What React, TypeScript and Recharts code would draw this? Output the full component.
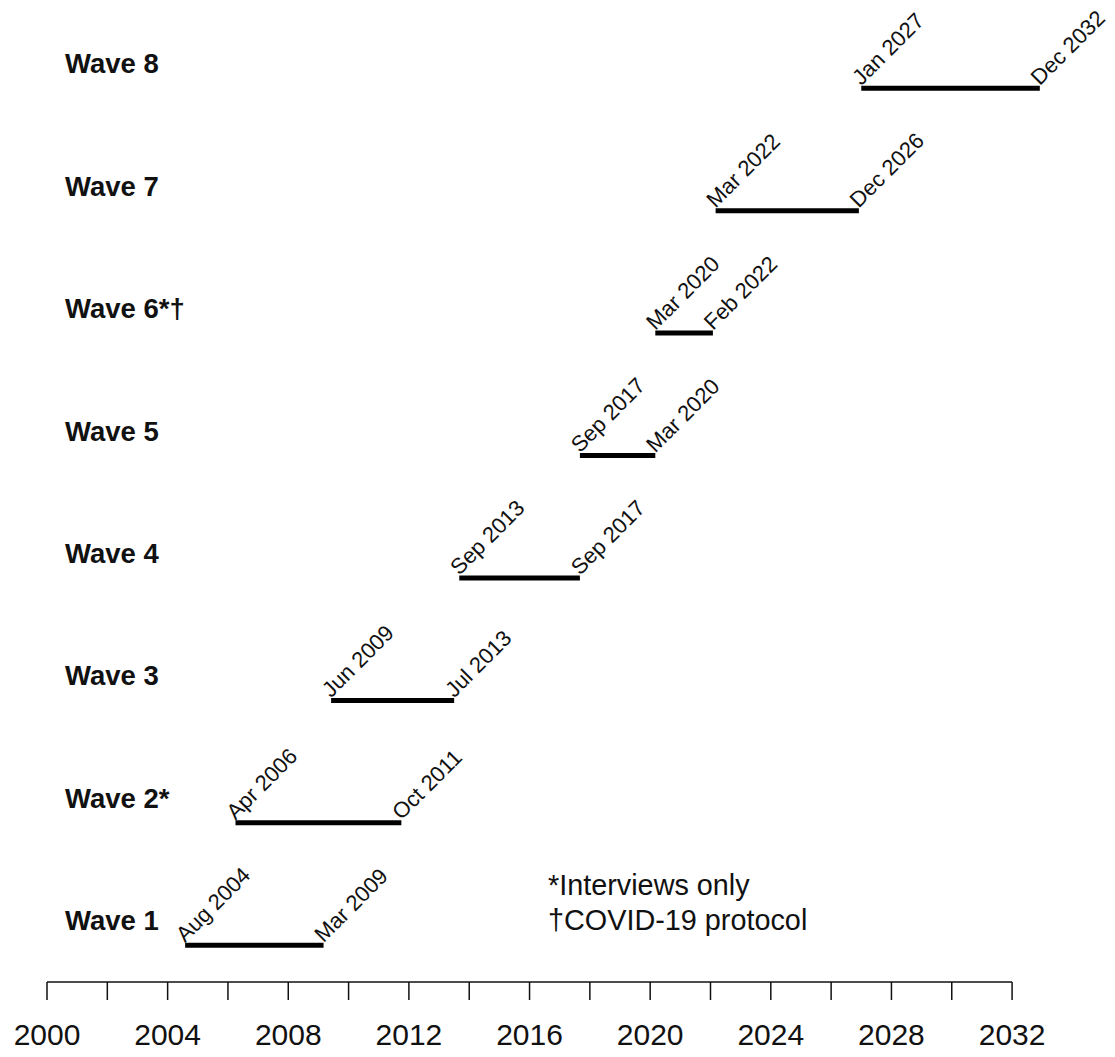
import React from 'react';
import { LineChart, Line, XAxis, YAxis, ReferenceLine, LabelList } from 'recharts';

const waveNames = ['Wave 1', 'Wave 2*', 'Wave 3', 'Wave 4', 'Wave 5', 'Wave 6*†', 'Wave 7', 'Wave 8'];
const waveRows = [1, 2, 3, 4, 5, 6, 7, 8];
const startLabels = ['Aug 2004', 'Apr 2006', 'Jun 2009', 'Sep 2013', 'Sep 2017', 'Mar 2020', 'Mar 2022', 'Jan 2027'];
const endLabels = ['Mar 2009', 'Oct 2011', 'Jul 2013', 'Sep 2017', 'Mar 2020', 'Feb 2022', 'Dec 2026', 'Dec 2032'];
const startYears = [2004.58, 2006.25, 2009.42, 2013.67, 2017.67, 2020.17, 2022.17, 2027.0];
const endYears = [2009.17, 2011.75, 2013.5, 2017.67, 2020.17, 2022.08, 2026.92, 2032.92];
const yearTicks = [2000, 2002, 2004, 2006, 2008, 2010, 2012, 2014, 2016, 2018, 2020, 2022, 2024, 2026, 2028, 2030, 2032];
const notes = ['*Interviews only', '†COVID-19 protocol'];

const FONT = '"Liberation Sans", Arial, Helvetica, sans-serif';

const waves = waveRows.map((row, i) => ({
  name: waveNames[i],
  data: [
    { x: startYears[i], y: row, label: startLabels[i] },
    { x: endYears[i], y: row, label: endLabels[i] },
  ],
}));

const DateLabel = (props: any) => {
  const { x, y, value } = props;
  return (
    <text
      x={x}
      y={y - 2}
      transform={`rotate(-45, ${x}, ${y - 2})`}
      fontSize={22}
      fontFamily={FONT}
      fill="#111"
      textAnchor="start"
    >
      {value}
    </text>
  );
};

const WaveTick = (props: any) => {
  const { y, payload } = props;
  return (
    <text x={57} y={y - 15} fontSize={27.5} fontWeight="bold" fontFamily={FONT} fill="#111" textAnchor="start">
      {waveNames[payload.value - 1]}
    </text>
  );
};

export default function App() {
  return (
    <div style={{ position: 'relative', width: 1107, height: 1041, overflow: 'visible' }}>
      <LineChart width={1107} height={1049} margin={{ top: 19, right: 42.6, left: 0, bottom: 0 }}>
        <XAxis
          type="number"
          dataKey="x"
          domain={[2000, 2034]}
          ticks={yearTicks}
          tickFormatter={(v: number) => (v % 4 === 0 ? String(v) : '')}
          axisLine={false}
          tickLine={{ stroke: '#111', strokeWidth: 1.5 }}
          tickSize={18}
          tickMargin={24}
          height={75}
          interval={0}
          tick={{ fontSize: 30, fill: '#111', fontFamily: FONT }}
        />
        <YAxis
          type="number"
          dataKey="y"
          domain={[0.7, 8.5]}
          ticks={waveRows}
          width={39}
          axisLine={false}
          tickLine={false}
          interval={0}
          tick={<WaveTick />}
        />
        <ReferenceLine
          segment={[{ x: 2000, y: 0.7 }, { x: 2032, y: 0.7 }]}
          stroke="#111"
          strokeWidth={1.5}
          ifOverflow="visible"
        />
        {waves.map((w) => (
          <Line
            key={w.name}
            data={w.data}
            dataKey="y"
            stroke="#000"
            strokeWidth={5}
            dot={false}
            activeDot={false}
            isAnimationActive={false}
          >
            <LabelList dataKey="label" content={<DateLabel />} />
          </Line>
        ))}
      </LineChart>
      <div
        style={{
          position: 'absolute',
          left: 540,
          top: 860,
          fontFamily: FONT,
          fontSize: 28.8,
          lineHeight: '35px',
          color: '#111',
          whiteSpace: 'nowrap',
        }}
      >
        {notes.map((n) => (
          <div key={n}>{n}</div>
        ))}
      </div>
    </div>
  );
}
